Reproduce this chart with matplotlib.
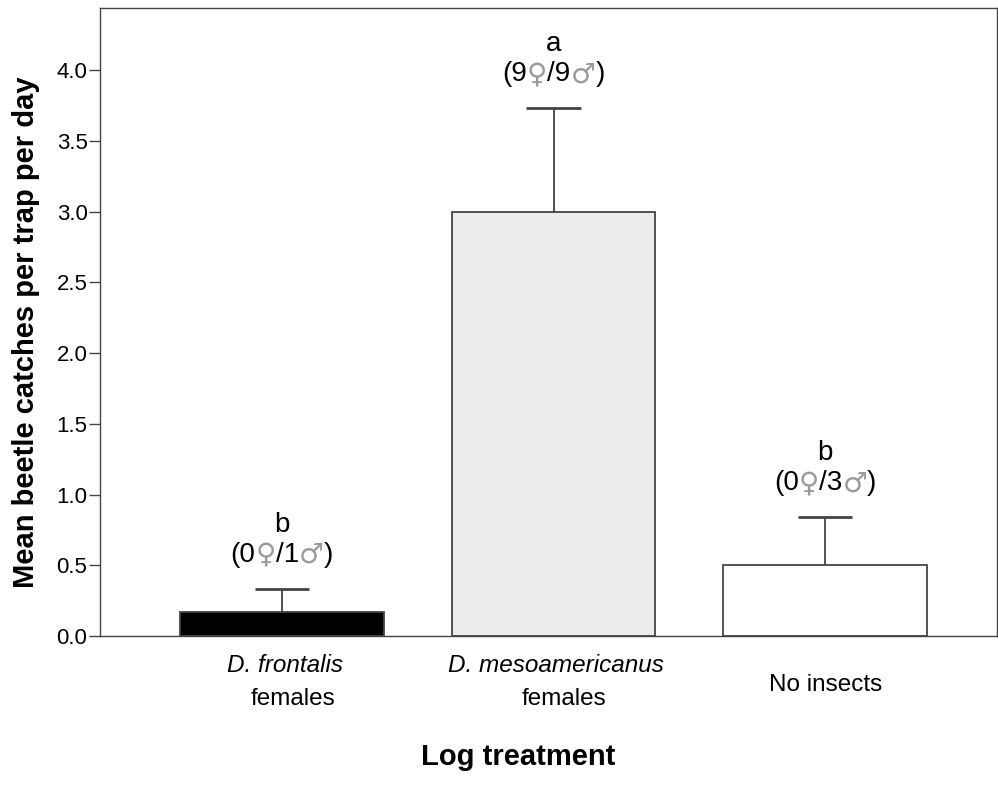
import matplotlib
matplotlib.use('Agg')
import matplotlib.pyplot as plt
from matplotlib.transforms import offset_copy, blended_transform_factory

plt.rcParams['font.family'] = ['Liberation Sans', 'DejaVu Sans']

# data
treatments = ['D. frontalis', 'D. mesoamericanus', 'No insects']
second_line = ['females', 'females', '']
means = [0.167, 3.0, 0.5]
se = [0.167, 0.73, 0.34]
letters = ['b', 'a', 'b']
n_female = [0, 9, 0]
n_male = [1, 9, 3]
colors = ['black', '#ececec', 'white']

edge = '#444444'

fig = plt.figure(figsize=(9.98, 8.01), dpi=100)
ax = fig.add_axes([0.1002, 0.206, 0.8988, 0.784])

x = list(range(len(means)))
ax.bar(x, means, width=0.75, color=colors, edgecolor=edge, linewidth=1.3, zorder=2)
tops = [m + e for m, e in zip(means, se)]
ax.vlines(x, means, tops, color=edge, linewidth=1.3, zorder=1)
ax.hlines(tops, [i - 0.1 for i in x], [i + 0.1 for i in x], color=edge, linewidth=2)

ax.set_xlim(-0.669, 2.632)
ax.set_ylim(0, 4.44)
ax.set_yticks([0, 0.5, 1.0, 1.5, 2.0, 2.5, 3.0, 3.5, 4.0])
ax.set_yticklabels(['%.1f' % v for v in ax.get_yticks()], fontsize=16)
ax.tick_params(axis='y', direction='out', length=8, width=1, color=edge, pad=1)
ax.set_xticks([])
for s in ax.spines.values():
    s.set_color(edge)
    s.set_linewidth(1)

fig.text(26 / 998, 1 - 332 / 801, 'Mean beetle catches per trap per day', rotation=90,
         ha='center', va='center', fontsize=21, fontweight='bold')
fig.text(518 / 998, 1 - 757 / 801, 'Log treatment', ha='center', va='center',
         fontsize=21, fontweight='bold')

# category labels (species name in italics)
tr = blended_transform_factory(ax.transData, fig.transFigure)
for i, (t, s) in enumerate(zip(treatments, second_line)):
    if s:
        ax.text(i + 0.01, 1 - 665 / 801, t, transform=tr, ha='center', va='center',
                fontsize=17.5, style='italic')
        ax.text(i + 0.04, 1 - 699 / 801, s, transform=tr, ha='center', va='center',
                fontsize=17.5)
    else:
        ax.text(i, 1 - 685 / 801, t, transform=tr, ha='center', va='center', fontsize=17.5)

# significance letters and sex counts above the error bars
fig.canvas.draw()
rend = fig.canvas.get_renderer()
fs = 20
for i in x:
    ax.annotate(letters[i], (i, tops[i]), xytext=(0, 64), textcoords='offset pixels',
                ha='center', va='center', fontsize=fs)
    parts = [('(%d' % n_female[i], 'black'), ('\u2640', '#9a9a9a'),
             ('/%d' % n_male[i], 'black'), ('\u2642', '#9a9a9a'), (')', 'black')]
    texts = []
    for p, c in parts:
        fam = ['Liberation Sans', 'DejaVu Sans'] if c == 'black' else ['DejaVu Sans']
        t = ax.text(i, tops[i], p, color=c, fontsize=fs, family=fam,
                    ha='left', va='center')
        texts.append(t)
    widths = [t.get_window_extent(rend).width for t in texts]
    start = -sum(widths) / 2
    for t, w in zip(texts, widths):
        t.set_transform(offset_copy(ax.transData, fig=fig, x=start, y=34, units='dots'))
        start += w

fig.savefig('out.png', dpi=100)
